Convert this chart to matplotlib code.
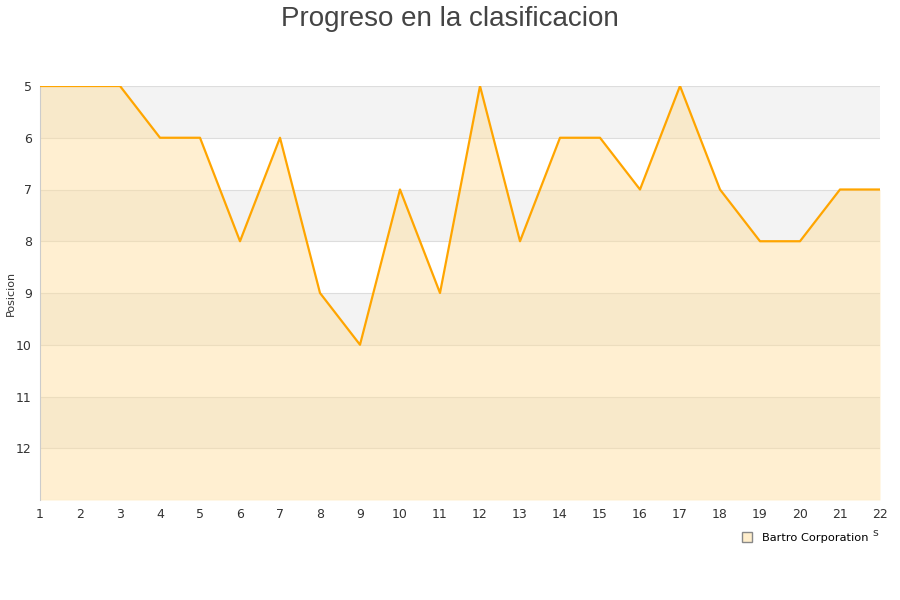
import matplotlib
matplotlib.use('agg')
import matplotlib.pyplot as plt
from matplotlib.lines import Line2D

jornadas = list(range(1, 23))
posiciones = [5, 5, 5, 6, 6, 8, 6, 9, 10, 7, 9, 5, 8, 6, 6, 7, 5, 7, 8, 8, 7, 7]
equipo = 'Bartro Corporation'
ticks_y = [5, 6, 7, 8, 9, 10, 11, 12]

fig = plt.figure(figsize=(9, 6), dpi=100)
ax = fig.add_axes([40 / 900, 1 - 500 / 600, 840 / 900, 414 / 600])

# bandas alternas
for y0 in range(5, 13, 2):
    ax.axhspan(y0, y0 + 1, color='#f3f3f3', zorder=0, lw=0)
for y in range(5, 14):
    ax.axhline(y, color='#dddddd', lw=0.8, zorder=1)

ax.fill_between(jornadas, posiciones, 13, color='#ffdd99', alpha=0.45, lw=0, zorder=2)
ax.plot(jornadas, posiciones, color='#ffa500', lw=1.6, zorder=3)

ax.set_xlim(1, 22)
ax.set_ylim(13, 5)
ax.set_xticks(jornadas)
ax.set_yticks(ticks_y)
ax.tick_params(length=0, labelsize=9, colors='#333333', pad=6)
for s in ['top', 'right', 'bottom']:
    ax.spines[s].set_visible(False)
ax.spines['left'].set_color('#cccccc')

fig.text(11 / 900, 1 - 293 / 600, 'Posicion', rotation=90, ha='center', va='center',
         fontsize=8, color='#333333')
fig.text(0.5, 0.99, 'Progreso en la clasificacion', ha='center', va='top',
         fontsize=20, color='#444444', family='Liberation Sans')
fig.text(0.972, 0.112, 's', fontsize=8, color='#333333', ha='center', va='center')

handles = [Line2D([0], [0], marker='s', ls='none', markersize=7,
                  markerfacecolor='#ffeecc', markeredgecolor='#888888')]
fig.legend(handles, [equipo], loc='center', bbox_to_anchor=(0.891, 0.103),
           frameon=False, fontsize=8.2, handletextpad=0.3)

plt.savefig('out.png')
plt.close('all')
